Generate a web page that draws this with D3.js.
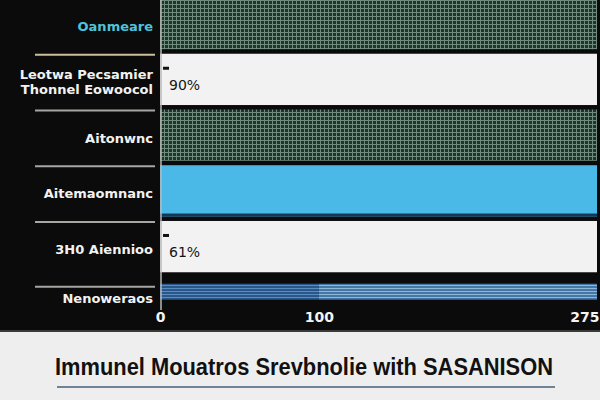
<!DOCTYPE html>
<html>
<head>
<meta charset="utf-8">
<script src="https://cdn.jsdelivr.net/npm/d3@7"></script>
<style>
  html, body { margin: 0; padding: 0; background: #0b0b0b; }
  svg { display: block; }
</style>
</head>
<body>
<svg id="chart" width="600" height="400"></svg>
<script>
// Row categories (top to bottom); "\n" splits a label over two lines
const categories = [
  "Oanmeare",
  "Leotwa Pecsamier\nThonnel Eowoocol",
  "Aitonwnc",
  "Aitemaomnanc",
  "3H0 Aiennioo",
  "Nenoweraos"
];
// First and second segment of each row's bar
const baseValues  = [275, 275, 275, 275, 275, 100];
const extraValues = [0, 0, 0, 0, 0, 175];
// Share annotations shown inside rows (percent)
const shares = [null, 90, null, null, 61, null];
// X axis ticks
const tickValues = [0, 100, 275];
const tickLabels = ["0", "100", "275"];
const titleText = "Immunel Mouatros Srevbnolie with SASANISON";

const svg = d3.select("#chart");
const W = 600, H = 400;

// Background panels
svg.append("rect").attr("width", W).attr("height", 331).attr("fill", "#0b0b0b");
svg.append("rect").attr("y", 330).attr("width", W).attr("height", 2).attr("fill", "#3a3a3a");
svg.append("rect").attr("y", 332).attr("width", W).attr("height", H - 332).attr("fill", "#eeeeee");

// Patterns
const defs = svg.append("defs");
const grid = defs.append("pattern").attr("id", "gridFill")
  .attr("patternUnits", "userSpaceOnUse").attr("width", 4).attr("height", 4);
grid.append("rect").attr("width", 4).attr("height", 4).attr("fill", "#1f352c");
grid.append("rect").attr("width", 4).attr("height", 1).attr("fill", "#6f8c7e");
grid.append("rect").attr("width", 1).attr("height", 4).attr("fill", "#6f8c7e");

function stripes(id, base, line) {
  const p = defs.append("pattern").attr("id", id)
    .attr("patternUnits", "userSpaceOnUse").attr("width", 6).attr("height", 3);
  p.append("rect").attr("width", 6).attr("height", 3).attr("fill", base);
  p.append("rect").attr("width", 6).attr("height", 1).attr("fill", line);
}
stripes("stripeDark", "#29578a", "#5a8cc0");
stripes("stripeLight", "#4577a6", "#8fb6d6");

// Per-row styling
const rowFill = ["url(#gridFill)", "#f2f2f2", "url(#gridFill)", "#4bb9e8", "#f2f2f2", "url(#stripeDark)"];
const labelColor = ["#4fc3d9", "#f2f2f2", "#f2f2f2", "#f2f2f2", "#f2f2f2", "#f2f2f2"];

const x = d3.scaleLinear().domain([0, 275]).range([160, 597]);
const y = d3.scaleBand().domain(categories).range([-2, 328]).paddingInner(0.08).paddingOuter(0);
const thin = i => i === categories.length - 1;

const rows = categories.map((c, i) => ({ c, i, a: baseValues[i], b: extraValues[i], s: shares[i] }));

// Bars: first segment
svg.append("g").selectAll("rect").data(rows).join("rect")
  .attr("x", x(0))
  .attr("y", d => thin(d.i) ? y(d.c) + 7 : y(d.c))
  .attr("width", d => x(d.a) - x(0))
  .attr("height", d => thin(d.i) ? 16 : y.bandwidth())
  .attr("fill", d => rowFill[d.i]);

// Bars: second segment
svg.append("g").selectAll("rect").data(rows.filter(d => d.b > 0)).join("rect")
  .attr("x", d => x(d.a))
  .attr("y", d => y(d.c) + 7)
  .attr("width", d => x(d.a + d.b) - x(d.a))
  .attr("height", 16)
  .attr("fill", "url(#stripeLight)");

// Navy rule under the solid blue bar
svg.append("g").selectAll("rect").data(rows.filter(d => d.i === 3)).join("rect")
  .attr("x", x(0)).attr("y", d => y(d.c) + y.bandwidth() - 3)
  .attr("width", d => x(d.a) - x(0)).attr("height", 3)
  .attr("fill", "#173757");

// Share annotations
const ann = svg.append("g").selectAll("g").data(rows.filter(d => d.s != null)).join("g");
ann.append("rect").attr("x", x(0) + 3).attr("y", d => y(d.c) + 13).attr("width", 6).attr("height", 3).attr("fill", "#111");
ann.append("text")
  .attr("x", x(0) + 9).attr("y", d => y(d.c) + 36)
  .attr("font-family", "DejaVu Sans, sans-serif").attr("font-size", 14)
  .attr("fill", "#151515")
  .text(d => `${d.s}%`);

// Separators in the label column
svg.append("g").selectAll("line").data(rows.slice(1)).join("line")
  .attr("x1", 35).attr("x2", 155)
  .attr("y1", d => thin(d.i) ? y(d.c) + 10 : y(d.c) + 1)
  .attr("y2", d => thin(d.i) ? y(d.c) + 10 : y(d.c) + 1)
  .attr("stroke", (d, k) => k === 0 ? "#cdbf9e" : "#a8a6a2")
  .attr("stroke-width", 2);

// Category labels
const labels = svg.append("g").selectAll("text").data(rows).join("text")
  .attr("x", 153)
  .attr("text-anchor", "end")
  .attr("font-family", "DejaVu Sans, sans-serif")
  .attr("font-weight", "bold")
  .attr("font-size", 13)
  .attr("fill", d => labelColor[d.i]);
labels.each(function(d) {
  const lines = d.c.split("\n");
  const cy = thin(d.i) ? y(d.c) + 22 : y(d.c) + y.bandwidth() / 2 + 3;
  const t = d3.select(this);
  lines.forEach((ln, k) => {
    t.append("tspan").attr("x", 153)
      .attr("y", cy + (k - (lines.length - 1) / 2) * 15)
      .attr("dy", "0.35em")
      .text(ln);
  });
});

// Axis line along the left of the plot
svg.append("line").attr("x1", x(0) + 1).attr("x2", x(0) + 1)
  .attr("y1", 0).attr("y2", 310).attr("stroke", "#b8b8b8").attr("stroke-width", 1.5);

// X axis
const xAxis = d3.axisBottom(x).tickValues(tickValues)
  .tickFormat((d, i) => tickLabels[i]).tickSize(0).tickPadding(7);
const gx = svg.append("g").attr("transform", "translate(0,305)").call(xAxis);
gx.select(".domain").remove();
gx.selectAll("text")
  .attr("font-family", "DejaVu Sans, sans-serif")
  .attr("font-weight", "bold")
  .attr("font-size", 14)
  .attr("fill", "#f4f4f4")
  .attr("text-anchor", (d, i) => i === tickValues.length - 1 ? "end" : "middle")
  .attr("dx", (d, i) => i === tickValues.length - 1 ? 2 : 0);

// Title and underline
svg.append("text")
  .attr("x", 55).attr("y", 375)
  .attr("font-family", "Liberation Sans, Arial, sans-serif")
  .attr("font-weight", "bold")
  .attr("font-size", 23)
  .attr("fill", "#111")
  .attr("textLength", 498)
  .attr("lengthAdjust", "spacingAndGlyphs")
  .text(titleText);
svg.append("line").attr("x1", 57).attr("x2", 555).attr("y1", 387).attr("y2", 387)
  .attr("stroke", "#6f8396").attr("stroke-width", 2);
</script>
</body>
</html>
